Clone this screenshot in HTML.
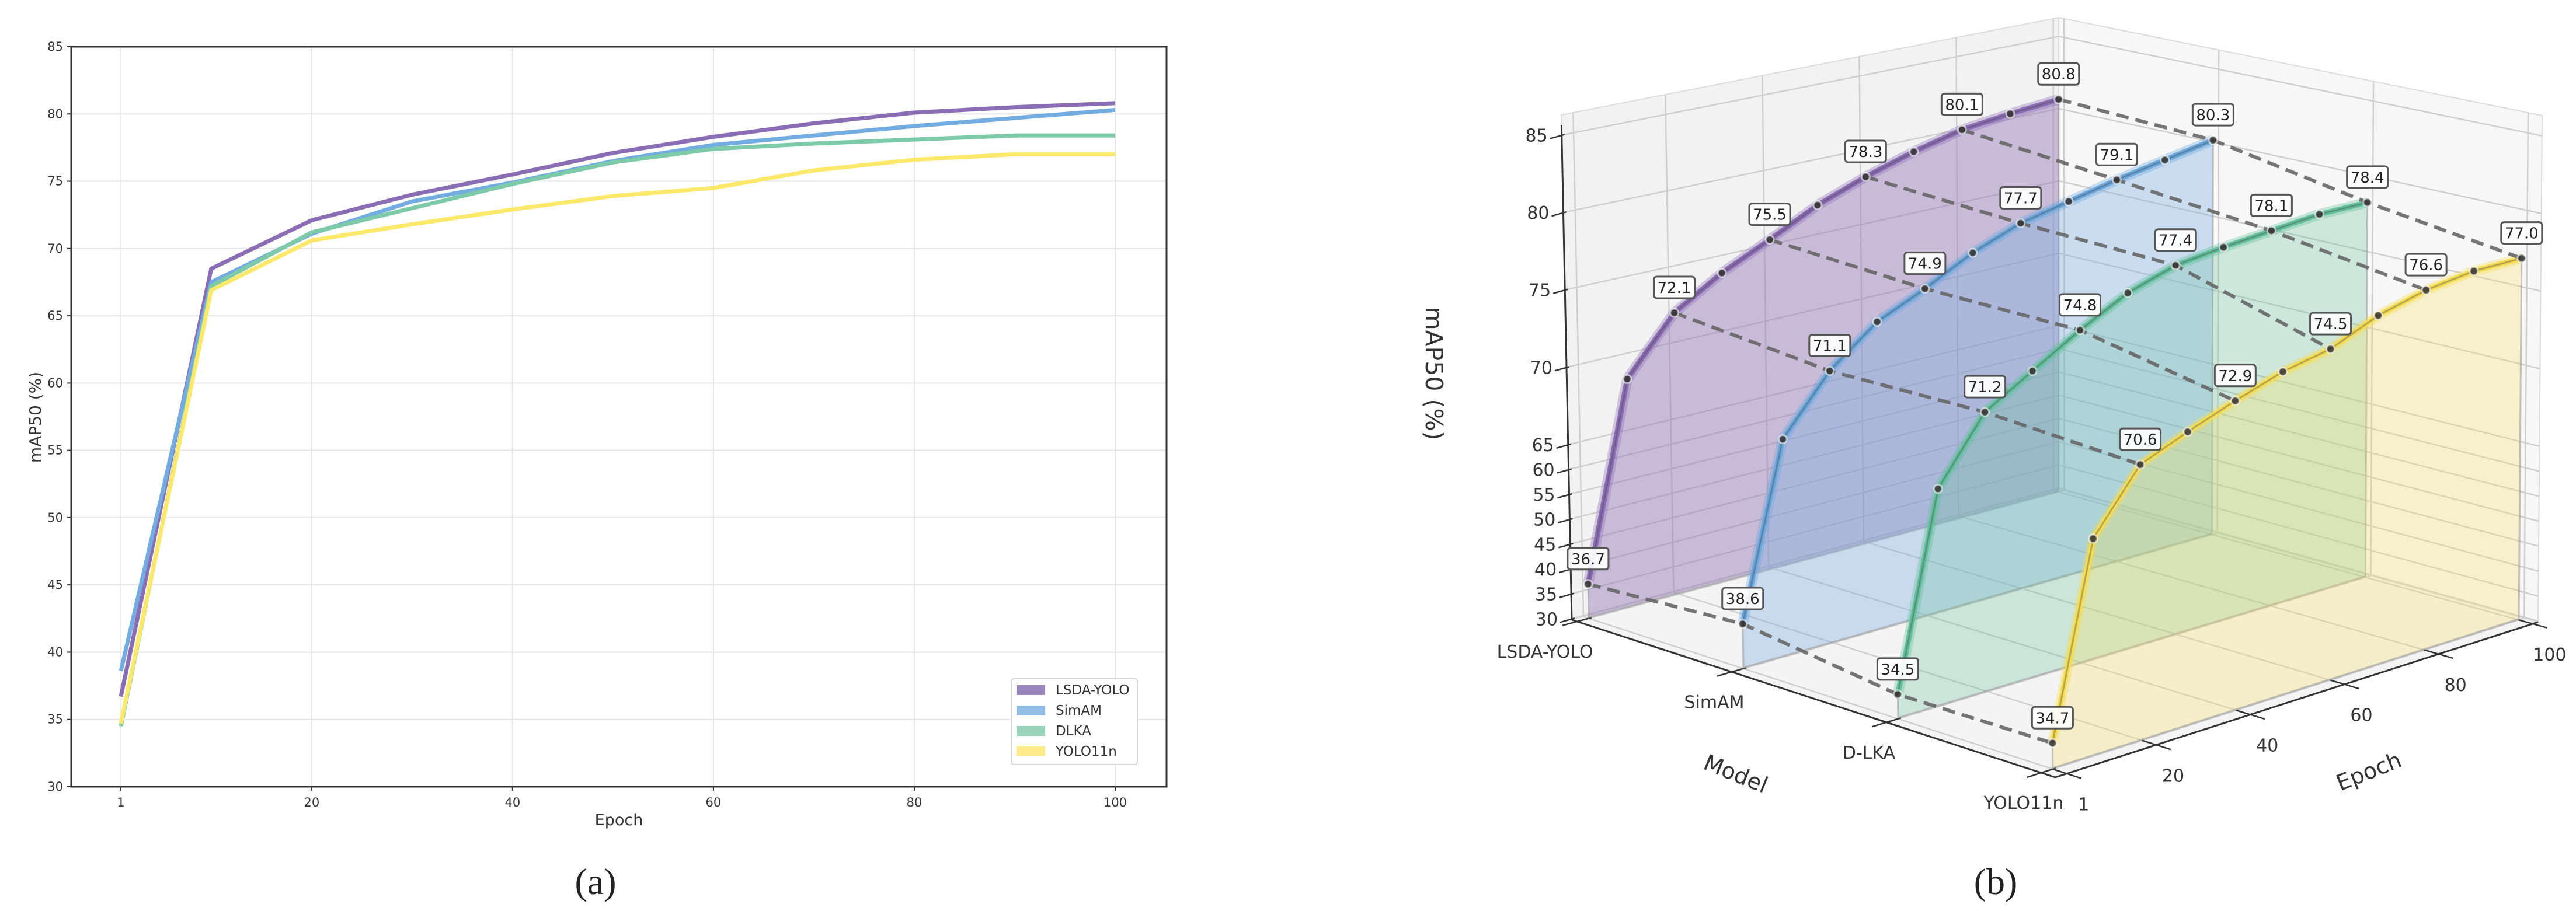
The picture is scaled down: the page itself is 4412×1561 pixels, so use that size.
<!DOCTYPE html>
<html><head><meta charset="utf-8"><style>
html,body{margin:0;padding:0;background:#fff;}
svg{display:block;font-family:"DejaVu Sans","Liberation Sans",sans-serif;}
</style></head><body>
<svg id="fig" width="4412" height="1561" viewBox="0 0 4412 1561" xmlns="http://www.w3.org/2000/svg">
<rect x="0" y="0" width="4412" height="1561" fill="#fff"/>
<g id="chartA"></g>
<g id="chartB"></g>
<text x="1020" y="1532" font-family="Liberation Serif, serif" font-size="64" text-anchor="middle" fill="#222">(a)</text>
<text x="3418" y="1532" font-family="Liberation Serif, serif" font-size="64" text-anchor="middle" fill="#222">(b)</text>
</svg>
<script>
const epochs=[1,10,20,30,40,50,60,70,80,90,100];
const seriesNames=['LSDA-YOLO','SimAM','DLKA','YOLO11n'];
const modelLabels3d=['LSDA-YOLO','SimAM','D-LKA','YOLO11n'];
const lsdaVals=[36.7,68.5,72.1,74.0,75.5,77.1,78.3,79.3,80.1,80.5,80.8];
const simamVals=[38.6,67.5,71.1,73.5,74.9,76.5,77.7,78.4,79.1,79.7,80.3];
const dlkaVals=[34.5,67.2,71.2,73.0,74.8,76.4,77.4,77.8,78.1,78.4,78.4];
const yoloVals=[34.7,66.9,70.6,71.8,72.9,73.9,74.5,75.8,76.6,77.0,77.0];
const xTicks=[1,20,40,60,80,100];
const yTicks=[30,35,40,45,50,55,60,65,70,75,80,85];
const labeledEpochs=[1,20,40,60,80,100];

const NS='http://www.w3.org/2000/svg';
function mk(parent,tag,attrs,text){const e=document.createElementNS(NS,tag);for(const k in attrs)e.setAttribute(k,attrs[k]);if(text!==undefined)e.textContent=text;parent.appendChild(e);return e;}
const allVals=[lsdaVals,simamVals,dlkaVals,yoloVals];

/* ---------- Chart A ---------- */
const A=document.getElementById('chartA');
const ax0=122,ax1=1998,ay0=80,ay1=1348;
function xA(t){return 207+(t-1)*(1910-207)/99;}
function yA(v){return ay1-(v-30)*(ay1-ay0)/55;}
const colA=['#8b6db5','#73ace0','#7ccaa8','#fce86a'];
const legCol=['#9a85bd','#93bfe6','#99d3b9','#fdeb8c'];
xTicks.forEach(t=>{let l=mk(A,'line',{x1:xA(t),x2:xA(t),y1:ay0,y2:ay1,stroke:'#e6e6e6','stroke-width':2});
});
yTicks.forEach(v=>{let l=mk(A,'line',{x1:ax0,x2:ax1,y1:yA(v),y2:yA(v),stroke:'#e6e6e6','stroke-width':2});
});
allVals.forEach((vals,i)=>{
 const d=vals.map((v,j)=>(j?'L':'M')+xA(epochs[j]).toFixed(1)+','+yA(v).toFixed(1)).join('');
 let p=mk(A,'path',{d:d,fill:'none',stroke:colA[i],'stroke-width':7,'stroke-linejoin':'round'});
 
});
let fr=mk(A,'rect',{x:ax0,y:ay0,width:ax1-ax0,height:ay1-ay0,fill:'none',stroke:'#333','stroke-width':3});

xTicks.forEach(t=>{let l=mk(A,'line',{x1:xA(t),x2:xA(t),y1:ay1,y2:ay1+7,stroke:'#333','stroke-width':2});

let tx=mk(A,'text',{x:xA(t),y:ay1+34,'font-size':21,'text-anchor':'middle',fill:'#333'},String(t));
});
yTicks.forEach(v=>{let l=mk(A,'line',{x1:ax0-7,x2:ax0,y1:yA(v),y2:yA(v),stroke:'#333','stroke-width':2});

let tx=mk(A,'text',{x:108,y:yA(v)+7,'font-size':21,'text-anchor':'end',fill:'#333'},String(v));
});
let xt=mk(A,'text',{x:1060,y:1414,'font-size':27,'text-anchor':'middle',fill:'#333'},'Epoch');

let yt=mk(A,'text',{x:0,y:0,'font-size':28,'text-anchor':'middle',fill:'#333',transform:'translate(70,715) rotate(-90)'},'mAP50 (%)');

let lg=mk(A,'g',{});
mk(lg,'rect',{x:1732,y:1163,width:216,height:147,rx:5,fill:'#fff',stroke:'#d6d6d6','stroke-width':2});
seriesNames.forEach((n,i)=>{const cy=1182+i*35;
 let g=mk(lg,'g',{});
 mk(g,'rect',{x:1741,y:cy-8,width:49,height:17,fill:legCol[i]});
 mk(g,'text',{x:1808,y:cy+8,'font-size':23,fill:'#333'},n);
});

/* ---------- Chart B (3D) ---------- */
const B=document.getElementById('chartB');
const P_LF=[2692,1062],P_F=[3520,1332],P_B=[3526,838],P_R=[4347,1066];
const T_L=[2674,197],T_F=[3510,407],T_B=[3526,30],T_R=[4354,198];
function bil(a,b,c,d,m,e){return[(1-m)*(1-e)*a[0]+m*(1-e)*b[0]+(1-m)*e*c[0]+m*e*d[0],(1-m)*(1-e)*a[1]+m*(1-e)*b[1]+(1-m)*e*c[1]+m*e*d[1]];}
function P(m,e,z){const f=bil(P_LF,P_F,P_B,P_R,m,e),t=bil(T_L,T_F,T_B,T_R,m,e);return[f[0]+(t[0]-f[0])*z,f[1]+(t[1]-f[1])*z];}
function fm(i){return 0.011+0.32*i;}
function fe(t){return 0.024+(t-1)/99*0.965;}
function fz(v){return v<=65?0.002+(v-30)/35*0.345:0.347+(v-65)/20*0.613;}
function pts(arr){return arr.map(p=>p[0].toFixed(1)+','+p[1].toFixed(1)).join(' ');}
function ln(g,a,b,st,w,name,extra){let l=mk(g,'line',Object.assign({x1:a[0],y1:a[1],x2:b[0],y2:b[1],stroke:st,'stroke-width':w},extra||{}));return l;}
// panes
let pl=mk(B,'polygon',{points:pts([P(0,0,0),P(0,1,0),P(0,1,1),P(0,0,1)]),fill:'#f2f2f2',stroke:'#dcdcdc','stroke-width':2});

let pr=mk(B,'polygon',{points:pts([P(0,1,0),P(1,1,0),P(1,1,1),P(0,1,1)]),fill:'#f7f7f7',stroke:'#dcdcdc','stroke-width':2});

let pf=mk(B,'polygon',{points:pts([P(0,0,0),P(1,0,0),P(1,1,0),P(0,1,0)]),fill:'#f4f4f4',stroke:'#dcdcdc','stroke-width':2});

const gc='#cfcfcf';
xTicks.forEach(t=>{ln(B,P(0,fe(t),0),P(0,fe(t),1),gc,2.5,'left-pane-gridline');ln(B,P(0,fe(t),0),P(1,fe(t),0),gc,2.5,'floor-gridline');});
yTicks.forEach(v=>{ln(B,P(0,0,fz(v)),P(0,1,fz(v)),gc,2.5,'left-pane-gridline');ln(B,P(0,1,fz(v)),P(1,1,fz(v)),gc,2.5,'right-pane-gridline');});
modelLabels3d.forEach((n,i)=>{ln(B,P(fm(i),1,0),P(fm(i),1,1),gc,2.5,'right-pane-gridline');ln(B,P(fm(i),0,0),P(fm(i),1,0),gc,2.5,'floor-gridline');});
// axes
ln(B,P(0,0,0),P(0,0,0.98),'#333',3,'z-axis-line');
ln(B,P(0,0,0),P(1,0,0),'#333',3,'model-axis-line');
ln(B,P(1,0,0),P(1,1,0),'#333',3,'epoch-axis-line');
yTicks.forEach(v=>{const p=P(0,0,fz(v));ln(B,[p[0]-20,p[1]+6],[p[0]+5,p[1]-1],'#333',2.5,'z-tick');
 let t=mk(B,'text',{x:p[0]-24,y:p[1]+11,'font-size':30,'text-anchor':'end',fill:'#333'},String(v));});
modelLabels3d.forEach((n,i)=>{const a=P(fm(i),-0.03,0),b=P(fm(i),0.03,0);ln(B,a,b,'#333',2.5,'model-tick');
 const p=P(fm(i),0,0);const dx=i===0?-55:-30;
 let t=mk(B,'text',{x:p[0]+dx,y:p[1]+62,'font-size':30,'text-anchor':'middle',fill:'#333'},n);});
xTicks.forEach(tk=>{const a=P(0.97,fe(tk),0),b=P(1.03,fe(tk),0);ln(B,a,b,'#333',2.5,'epoch-tick');
 const p=P(1,fe(tk),0);let t=mk(B,'text',{x:p[0]+29,y:p[1]+63,'font-size':30,'text-anchor':'middle',fill:'#333'},String(tk));});
let zt=mk(B,'text',{x:0,y:0,'font-size':41,'text-anchor':'middle',fill:'#333',transform:'translate(2442,640) rotate(90)'},'mAP50 (%)');

let mt=mk(B,'text',{x:0,y:0,'font-size':38,'text-anchor':'middle',fill:'#333',transform:'translate(2968,1338) rotate(22)'},'Model');

let et=mk(B,'text',{x:0,y:0,'font-size':38,'text-anchor':'middle',fill:'#333',transform:'translate(4062,1334) rotate(-22)'},'Epoch');

// series
const col3=['#8b6cb4','#6aa7dc','#62c09c','#f5dc50'];
const fill3=['rgba(142,111,181,0.42)','rgba(130,175,225,0.38)','rgba(110,195,160,0.3)','rgba(248,225,100,0.3)'];
const scr=allVals.map((vals,i)=>vals.map((v,j)=>P(fm(i),fe(epochs[j]),fz(v))));
allVals.forEach((vals,i)=>{
 const top=scr[i];const base=epochs.map(t=>P(fm(i),fe(t),fz(30))).reverse();
 let f=mk(B,'polygon',{points:pts(top.concat(base)),fill:fill3[i],stroke:'rgba(150,150,150,0.55)','stroke-width':3});
 
 let gl=mk(B,'polyline',{points:pts(top),fill:'none',stroke:col3[i],'stroke-opacity':0.35,'stroke-width':18,'stroke-linejoin':'round'});
 
 let l=mk(B,'polyline',{points:pts(top),fill:'none',stroke:col3[i],'stroke-width':9,'stroke-linejoin':'round'});
 
 let c=mk(B,'polyline',{points:pts(top),fill:'none',stroke:'rgba(70,70,70,0.35)','stroke-width':3,'stroke-linejoin':'round'});
 
});
// dashed connectors
labeledEpochs.forEach(t=>{const j=epochs.indexOf(t);const ps=scr.map(s=>s[j]);
 let d=mk(B,'polyline',{points:pts(ps),fill:'none',stroke:'#666','stroke-opacity':0.9,'stroke-width':6,'stroke-dasharray':'22 12'});
 });
// points
scr.forEach((s,i)=>s.forEach((p,j)=>{let c=mk(B,'circle',{cx:p[0],cy:p[1],r:7,fill:'rgba(50,50,50,0.85)',stroke:'rgba(255,255,255,0.6)','stroke-width':3});
 }));
// value labels
allVals.forEach((vals,i)=>labeledEpochs.forEach(t=>{const j=epochs.indexOf(t);const p=scr[i][j];const v=vals[j];
 let g=mk(B,'g',{});
 mk(g,'rect',{x:p[0]-35,y:p[1]-62,width:70,height:37,rx:5,fill:'rgba(255,255,255,0.92)',stroke:'#555','stroke-width':3});
 mk(g,'text',{x:p[0],y:p[1]-34,'font-size':26,'text-anchor':'middle',fill:'#222'},v.toFixed(1));
}));
</script>
</body></html>
